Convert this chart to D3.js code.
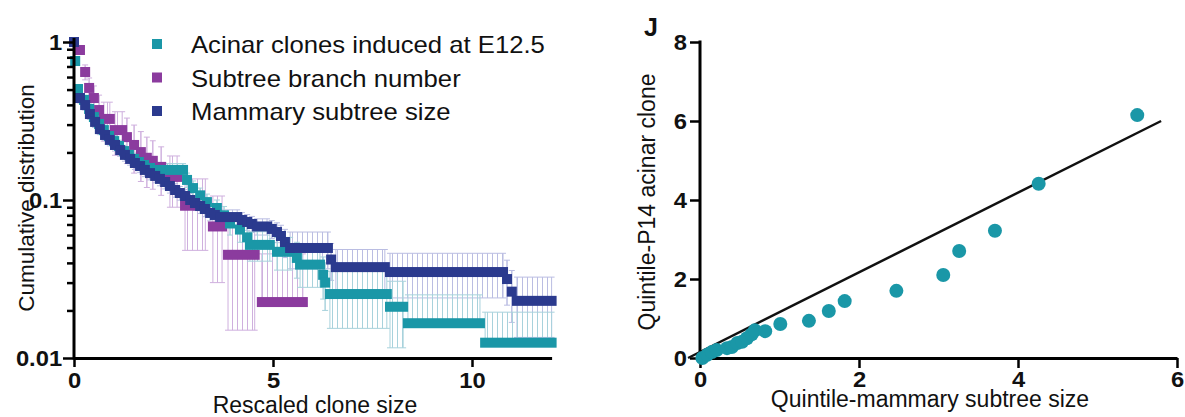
<!DOCTYPE html>
<html>
<head>
<meta charset="utf-8">
<script src="https://cdn.jsdelivr.net/npm/d3@7"></script>
<style>
  body { margin: 0; background: #fff; }
  svg { display: block; }
  text { font-family: "Liberation Sans", Arial, sans-serif; fill: #111; }
</style>
</head>
<body>
<svg id="chart" width="1185" height="417"></svg>
<script>
// ---- Cumulative distributions: step runs [xStart, xEnd, value, sd] ----
const acinarSteps = [
  [0.03, 0.03, 0.758, 0.020],
  [0.10, 0.10, 0.504, 0.030],
  [0.25, 0.25, 0.430, 0.030],
  [0.38, 0.38, 0.377, 0.028],
  [0.50, 0.50, 0.335, 0.026],
  [0.63, 0.63, 0.303, 0.024],
  [0.75, 0.75, 0.277, 0.022],
  [0.88, 0.88, 0.254, 0.021],
  [1.01, 1.01, 0.236, 0.020],
  [1.13, 1.13, 0.220, 0.019],
  [1.26, 1.26, 0.204, 0.018],
  [1.38, 1.38, 0.193, 0.017],
  [1.51, 1.51, 0.182, 0.016],
  [1.63, 1.63, 0.174, 0.016],
  [1.76, 1.76, 0.1666, 0.015],
  [1.91, 1.91, 0.1595, 0.015],
  [2.09, 2.74, 0.155, 0.015],
  [2.84, 2.84, 0.134, 0.014],
  [2.99, 2.99, 0.119, 0.013],
  [3.17, 3.17, 0.107, 0.012],
  [3.34, 3.34, 0.097, 0.012],
  [3.59, 3.59, 0.089, 0.011],
  [3.77, 3.77, 0.080, 0.011],
  [3.92, 3.92, 0.071, 0.011],
  [4.17, 4.17, 0.065, 0.011],
  [4.35, 4.35, 0.058, 0.011],
  [4.42, 4.92, 0.052, 0.011],
  [5.10, 5.43, 0.047, 0.011],
  [5.60, 5.60, 0.043, 0.011],
  [5.68, 6.18, 0.039, 0.011],
  [6.26, 6.26, 0.0336, 0.010],
  [6.31, 6.31, 0.030, 0.010],
  [6.43, 7.86, 0.0254, 0.010],
  [7.94, 8.27, 0.0211, 0.0095],
  [8.39, 10.20, 0.0166, 0.0085],
  [10.33, 12.00, 0.0125, 0.0070]
];

const branchSteps = [
  [0.15, 0.15, 0.890, 0.040],
  [0.28, 0.28, 0.646, 0.070],
  [0.38, 0.38, 0.512, 0.080],
  [0.50, 0.50, 0.442, 0.085],
  [0.63, 0.63, 0.371, 0.090],
  [0.75, 0.90, 0.326, 0.090],
  [1.03, 1.21, 0.277, 0.085],
  [1.33, 1.33, 0.250, 0.080],
  [1.51, 1.51, 0.223, 0.075],
  [1.68, 1.68, 0.201, 0.070],
  [1.83, 1.83, 0.185, 0.065],
  [1.98, 1.98, 0.177, 0.060],
  [2.19, 2.19, 0.162, 0.055],
  [2.41, 2.59, 0.140, 0.050],
  [2.79, 3.30, 0.092, 0.044],
  [3.49, 3.72, 0.068, 0.038],
  [3.87, 4.54, 0.045, 0.030],
  [4.72, 5.75, 0.0226, 0.023]
];

const mammarySteps = [
  [0.00, 0.00, 1.000, 0.000],
  [0.15, 0.15, 0.442, 0.030],
  [0.28, 0.28, 0.399, 0.028],
  [0.40, 0.40, 0.350, 0.026],
  [0.53, 0.53, 0.312, 0.024],
  [0.65, 0.65, 0.281, 0.022],
  [0.78, 0.78, 0.258, 0.021],
  [0.90, 0.90, 0.240, 0.020],
  [1.03, 1.03, 0.223, 0.019],
  [1.16, 1.16, 0.207, 0.018],
  [1.28, 1.28, 0.193, 0.017],
  [1.41, 1.41, 0.182, 0.016],
  [1.53, 1.53, 0.1715, 0.0155],
  [1.66, 1.66, 0.164, 0.015],
  [1.78, 1.78, 0.155, 0.0145],
  [1.91, 1.91, 0.148, 0.014],
  [2.04, 2.04, 0.142, 0.0135],
  [2.16, 2.16, 0.136, 0.013],
  [2.29, 2.29, 0.130, 0.0125],
  [2.41, 2.41, 0.1226, 0.012],
  [2.54, 2.54, 0.1157, 0.0115],
  [2.66, 2.66, 0.1107, 0.011],
  [2.79, 2.79, 0.106, 0.0105],
  [2.92, 2.92, 0.100, 0.010],
  [3.04, 3.04, 0.0957, 0.0098],
  [3.17, 3.17, 0.0916, 0.0095],
  [3.29, 3.29, 0.0877, 0.0093],
  [3.42, 3.42, 0.0828, 0.009],
  [3.54, 3.54, 0.0804, 0.0088],
  [3.67, 4.10, 0.078, 0.0086],
  [4.22, 4.22, 0.0747, 0.0085],
  [4.35, 4.35, 0.0726, 0.0083],
  [4.47, 4.47, 0.0705, 0.0082],
  [4.60, 4.85, 0.068, 0.008],
  [4.97, 4.97, 0.0656, 0.0085],
  [5.10, 5.10, 0.0627, 0.009],
  [5.20, 5.20, 0.0592, 0.010],
  [5.30, 5.30, 0.0542, 0.011],
  [5.43, 6.38, 0.0497, 0.013],
  [6.46, 6.46, 0.042, 0.011],
  [6.58, 7.81, 0.0376, 0.011],
  [7.94, 10.78, 0.035, 0.011],
  [10.88, 10.88, 0.0316, 0.010],
  [11.00, 11.00, 0.0263, 0.0095],
  [11.13, 12.00, 0.023, 0.0095]
];

const legendLabels = ["Acinar clones induced at E12.5", "Subtree branch number", "Mammary subtree size"];
const logMajorTicks = [1, 0.1, 0.01];
const logMajorLabels = ["1", "0.1", "0.01"];
const cloneXTicks = [0, 5, 10];

// ---- Quantile-quantile panel ----
const qqX = [0.03, 0.09, 0.15, 0.21, 0.34, 0.40, 0.47, 0.53, 0.59, 0.65, 0.69, 0.82, 1.01, 1.37, 1.62, 1.82, 2.47, 3.06, 3.26, 3.71, 4.26, 5.50];
const qqY = [0.00, 0.08, 0.15, 0.20, 0.25, 0.28, 0.38, 0.41, 0.50, 0.60, 0.70, 0.68, 0.86, 0.94, 1.19, 1.44, 1.70, 2.10, 2.71, 3.22, 4.41, 6.15];
const refLineX = [-0.15, 5.80];
const refLineY = [0.00, 6.00];
const qqXTicks = [0, 2, 4, 6];
const qqYTicks = [0, 2, 4, 6, 8];

const TEAL = "#1a97a7", PURPLE = "#8b3b9e", NAVY = "#2b3a8e";
const TEAL_ERR = "#a8d2dc", PURPLE_ERR = "#cfb0de", NAVY_ERR = "#babde2";
const FONT = "'Liberation Sans', Arial, sans-serif";
const WIDE = "scale(1.08,1)";   // slightly widened lettering

const svg = d3.select("#chart");
const defs = svg.append("defs");

// vertical hatching that stands in for densely packed error bars
function hatch(id, color) {
  const p = defs.append("pattern").attr("id", id)
    .attr("patternUnits", "userSpaceOnUse").attr("width", 5).attr("height", 10);
  p.append("line").attr("x1", 2.5).attr("x2", 2.5).attr("y1", 0).attr("y2", 10)
    .attr("stroke", color).attr("stroke-width", 1);
}
hatch("hTeal", TEAL_ERR);
hatch("hPurple", PURPLE_ERR);
hatch("hNavy", NAVY_ERR);

// ================= Left panel: cumulative distribution =================
const x1 = d3.scaleLinear().domain([0, 12]).range([74, 551.6]);
const y1 = d3.scaleLog().domain([0.01, 1]).range([358, 42]);
const left = svg.append("g");

function drawErrors(steps, color, patternId) {
  const g = left.append("g").attr("stroke", color).attr("stroke-width", 1).attr("fill", "none");
  steps.forEach(([a, b, v, sd]) => {
    if (!sd) return;
    const xa = x1(a), xb = x1(b);
    const yh = y1(v + sd), yv = y1(v);
    const lowShown = v - sd >= 0.01;           // lower bars below the axis floor are not drawn
    const yl = lowShown ? y1(v - sd) : yv;
    if (xb > xa) {
      g.append("rect").attr("x", xa).attr("width", xb - xa)
        .attr("y", yh).attr("height", yl - yh)
        .attr("fill", `url(#${patternId})`).attr("stroke", "none");
    }
    [xa, xb].forEach(xx => g.append("line").attr("x1", xx).attr("x2", xx).attr("y1", yh).attr("y2", yl));
    g.append("line").attr("x1", xa - 3).attr("x2", xb + 3).attr("y1", yh).attr("y2", yh);
    if (lowShown) g.append("line").attr("x1", xa - 3).attr("x2", xb + 3).attr("y1", yl).attr("y2", yl);
  });
}

function drawSteps(steps, color) {
  left.append("g").selectAll("rect").data(steps).join("rect")
    .attr("x", d => x1(d[0]) - 5)
    .attr("width", d => x1(d[1]) - x1(d[0]) + 10)
    .attr("y", d => y1(d[2]) - 5)
    .attr("height", 10)
    .attr("fill", color);
}

drawErrors(branchSteps, PURPLE_ERR, "hPurple");
drawErrors(mammarySteps, NAVY_ERR, "hNavy");
drawErrors(acinarSteps, TEAL_ERR, "hTeal");
drawSteps(branchSteps, PURPLE);
drawSteps(acinarSteps, TEAL);
drawSteps(mammarySteps, NAVY);

// y axis: minor ticks, then labelled decades
const minorTicks = [];
[0.01, 0.1].forEach(dec => d3.range(2, 10).forEach(k => minorTicks.push(dec * k)));
left.append("g").attr("transform", "translate(74,0)")
  .call(d3.axisLeft(y1).tickValues(minorTicks).tickSize(7).tickSizeOuter(0).tickFormat(""))
  .call(g => g.select(".domain").remove())
  .call(g => g.selectAll(".tick line").attr("stroke", "#000").attr("stroke-width", 2.5));

function styleAxis(a) {
  a.select(".domain").attr("stroke", "#000").attr("stroke-width", 3);
  a.selectAll(".tick line").attr("stroke", "#000").attr("stroke-width", 2.5);
  a.selectAll(".tick text").attr("font-size", 22).attr("font-weight", "bold")
    .attr("font-family", FONT).attr("fill", "#111").attr("transform", WIDE);
}

const yAxisL = left.append("g").attr("transform", "translate(74,0)")
  .call(d3.axisLeft(y1).tickValues(logMajorTicks).tickSize(11).tickSizeOuter(0)
    .tickFormat((d, i) => logMajorLabels[i]).tickPadding(0));
styleAxis(yAxisL);
yAxisL.select(".domain").attr("d", "M0,38V359.5");

const xAxisL = left.append("g").attr("transform", "translate(0,358)")
  .call(d3.axisBottom(x1).tickValues(cloneXTicks).tickSize(9).tickSizeOuter(0).tickPadding(5));
styleAxis(xAxisL);

left.append("text").attr("x", 315).attr("y", 413).attr("text-anchor", "middle")
  .attr("font-size", 23).text("Rescaled clone size");
left.append("text").attr("transform", "translate(34,198) rotate(-90)").attr("text-anchor", "middle")
  .attr("font-size", 22.5).text("Cumulative distribution");

// legend
const legend = left.append("g");
[TEAL, PURPLE, NAVY].forEach((c, i) => {
  const yy = 44 + i * 33.5;
  legend.append("rect").attr("x", 152).attr("y", yy - 5).attr("width", 10).attr("height", 10).attr("fill", c);
  legend.append("text").attr("transform", `translate(191,${yy + 9}) scale(1.07,1)`)
    .attr("font-size", 24).text(legendLabels[i]);
});

// ================= Right panel: quantile-quantile =================
const x2 = d3.scaleLinear().domain([0, 6]).range([700, 1177]);
const y2 = d3.scaleLinear().domain([0, 8]).range([358, 42]);
const right = svg.append("g");

const yAxisR = right.append("g").attr("transform", "translate(700,0)")
  .call(d3.axisLeft(y2).tickValues(qqYTicks).tickSize(10).tickSizeOuter(0).tickPadding(2)
    .tickFormat(d3.format("d")));
const xAxisR = right.append("g").attr("transform", "translate(0,358)")
  .call(d3.axisBottom(x2).tickValues(qqXTicks).tickSize(10).tickSizeOuter(0).tickPadding(3)
    .tickFormat(d3.format("d")));
styleAxis(yAxisR);
styleAxis(xAxisR);
yAxisR.select(".domain").attr("d", "M0,40.5V359.5");

right.append("line")
  .attr("x1", x2(refLineX[0])).attr("y1", y2(refLineY[0]))
  .attr("x2", x2(refLineX[1])).attr("y2", y2(refLineY[1]))
  .attr("stroke", "#111").attr("stroke-width", 2.5);

right.append("g").selectAll("circle").data(qqX).join("circle")
  .attr("cx", d => x2(d)).attr("cy", (d, i) => y2(qqY[i])).attr("r", 7)
  .attr("fill", TEAL);

right.append("text").attr("x", 930).attr("y", 407).attr("text-anchor", "middle")
  .attr("font-size", 23).text("Quintile-mammary subtree size");
right.append("text").attr("transform", "translate(655,202) rotate(-90)").attr("text-anchor", "middle")
  .attr("font-size", 23).text("Quintile-P14 acinar clone");
right.append("text").attr("x", 644).attr("y", 36).attr("font-size", 25).attr("font-weight", "bold").text("J");
</script>
</body>
</html>
